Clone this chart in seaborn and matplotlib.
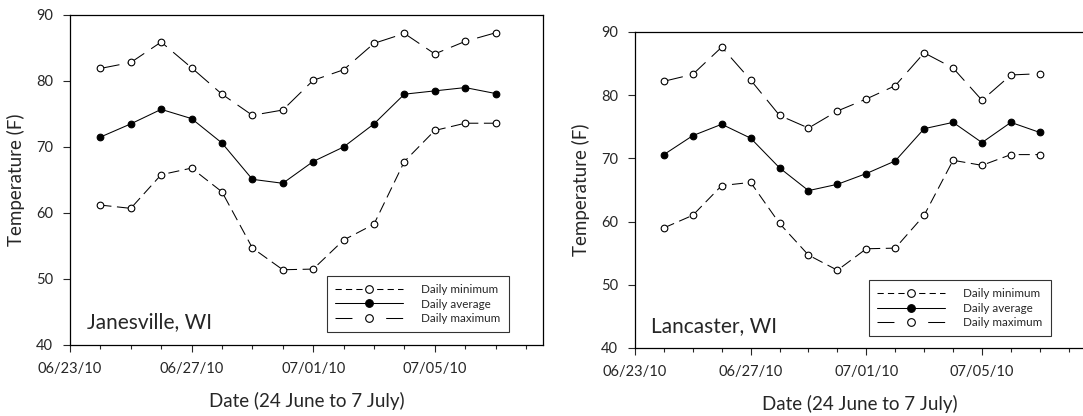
import pandas as pd
import matplotlib.pyplot as plt
import matplotlib.dates as mdates
import seaborn as sns

# -----------------------------
# Data
# -----------------------------
dates = pd.date_range("2010-06-24", "2010-07-07", freq="D")

jan_min = [61.2, 60.7, 65.8, 66.8, 63.2, 54.7, 51.4, 51.5, 55.9, 58.3, 67.8, 72.5, 73.6, 73.6]
jan_avg = [71.5, 73.5, 75.7, 74.3, 70.6, 65.1, 64.5, 67.8, 70.0, 73.5, 78.0, 78.5, 79.0, 78.1]
jan_max = [81.9, 82.8, 85.9, 82.0, 78.0, 74.8, 75.6, 80.1, 81.7, 85.7, 87.2, 84.1, 86.0, 87.3]

lan_min = [59.0, 61.0, 65.7, 66.2, 59.7, 54.7, 52.3, 55.7, 55.8, 61.0, 69.7, 68.9, 70.6, 70.6]
lan_avg = [70.6, 73.6, 75.4, 73.2, 68.5, 64.9, 65.9, 67.6, 69.6, 74.7, 75.7, 72.5, 75.7, 74.1]
lan_max = [82.2, 83.3, 87.6, 82.4, 76.8, 74.8, 77.5, 79.4, 81.5, 86.7, 84.3, 79.2, 83.2, 83.4]

series_labels = ["Daily minimum", "Daily average", "Daily maximum"]
sites = ["Janesville, WI", "Lancaster, WI"]

# -----------------------------
# Style
# -----------------------------
sns.set_style("ticks")
plt.rcParams["font.family"] = ["Lato", "DejaVu Sans"]
plt.rcParams["lines.scale_dashes"] = False
plt.rcParams["axes.linewidth"] = 0.9

fig = plt.figure(figsize=(10.83, 4.16), dpi=100)
ax_left = fig.add_axes([0.0646, 0.1707, 0.4368, 0.7933])
ax_right = fig.add_axes([0.5863, 0.1635, 0.4155, 0.7596])

styles = [
    dict(linestyle=(0, (8, 4)), markerfacecolor="white"),
    dict(linestyle="-", markerfacecolor="black"),
    dict(linestyle=(0, (14, 6)), markerfacecolor="white"),
]


def draw_panel(ax, mins, avgs, maxs, site, leg_anchor):
    for vals, lab, st in zip([mins, avgs, maxs], series_labels, styles):
        sns.lineplot(x=dates, y=vals, ax=ax, color="black", linewidth=0.75,
                     marker="o", markersize=4.8, markeredgecolor="black",
                     markeredgewidth=0.8, label=lab, legend=False, **st)
    ax.set_ylim(40, 90)
    ax.set_yticks(range(40, 91, 10))
    ax.set_xlim(pd.Timestamp("2010-06-23"), pd.Timestamp("2010-06-23") + pd.Timedelta(days=15.56))
    ax.xaxis.set_major_locator(mdates.DayLocator(bymonthday=[1, 5, 23, 27]))
    ax.xaxis.set_minor_locator(mdates.DayLocator())
    ax.xaxis.set_major_formatter(mdates.DateFormatter("%m/%d/%y"))
    ax.tick_params(axis="both", which="major", labelsize=10.5, length=5, width=0.8, pad=7)
    ax.tick_params(axis="x", which="minor", length=3, width=0.8)
    ax.set_xlabel("Date (24 June to 7 July)", fontsize=13.5, labelpad=12)
    ax.set_ylabel("Temperature (F)", fontsize=13.5, labelpad=8)
    for s in ax.spines.values():
        s.set_visible(True)
        s.set_color("black")
    ax.text(0.035, 0.05, site, transform=ax.transAxes, fontsize=15, va="baseline")
    leg = ax.legend(loc="lower right", bbox_to_anchor=leg_anchor, fontsize=8.4,
                    handlelength=5.8, numpoints=1, frameon=True, fancybox=False,
                    borderpad=0.7, labelspacing=0.3, handletextpad=1.6,
                    markerscale=1.15)
    leg.get_frame().set_edgecolor("black")
    leg.get_frame().set_linewidth(0.8)
    # legend samples: short dashes for the minimum, long dash-marker-long dash for the maximum
    leg.get_lines()[0].set_linestyle((0, (4.5, 3.0)))
    leg.get_lines()[2].set_linestyle((0, (12.2, 24.3)))


draw_panel(ax_left, jan_min, jan_avg, jan_max, sites[0], (0.94, 0.021))
draw_panel(ax_right, lan_min, lan_avg, lan_max, sites[1], (0.937, 0.018))

fig.savefig("out.png", dpi=100)
